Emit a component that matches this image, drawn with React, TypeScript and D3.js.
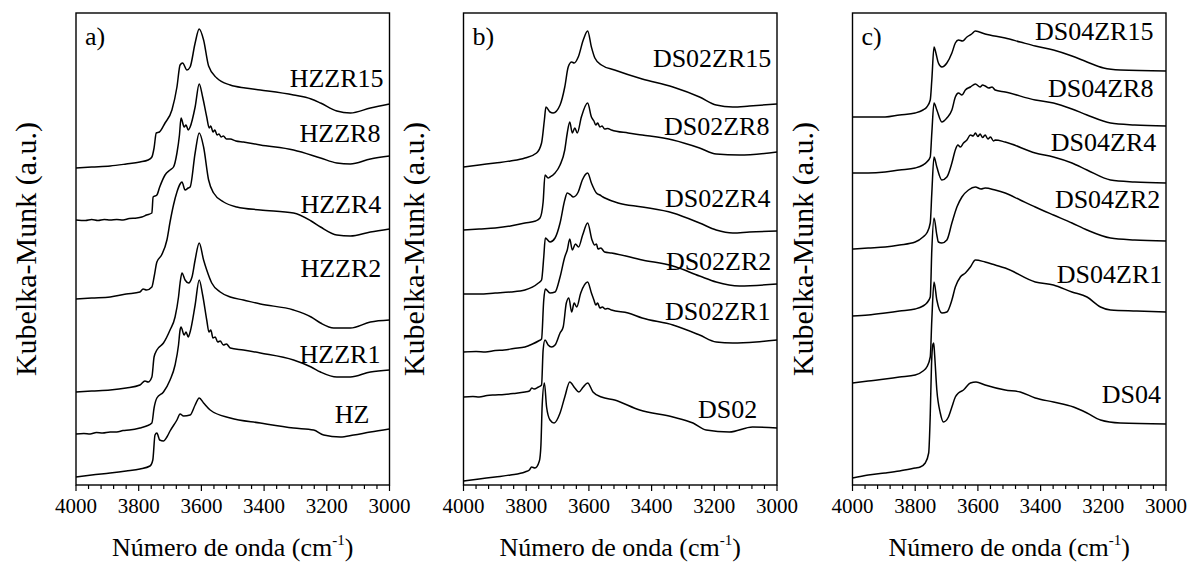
import React from 'react';
import * as d3 from 'd3';

type Pt = [number, number];

// ---------- axis ----------
const X_DOMAIN: [number, number] = [4000, 3000];
const X_MAJOR_TICKS = [4000, 3800, 3600, 3400, 3200, 3000];
const X_MINOR_STEP = 40;
const Y_DOMAIN: [number, number] = [0, 4.72];
const X_TITLE = 'Número de onda (cm';
const X_TITLE_SUP = '-1';
const Y_TITLE = 'Kubelka-Munk (a.u.)';

// ---------- panel a ----------
const HZZR15: Pt[] = [[4000,3.17],[3950,3.18],[3891,3.19],[3840,3.21],[3796,3.23],[3770,3.25],[3758,3.28],[3751,3.37],[3744,3.52],[3734,3.53],[3716,3.62],[3694,3.75],[3678,3.98],[3668,4.20],[3660,4.22],[3646,4.15],[3636,4.18],[3620,4.42],[3607,4.56],[3593,4.45],[3577,4.19],[3551,4.07],[3508,4.00],[3460,3.97],[3412,3.95],[3306,3.90],[3250,3.86],[3220,3.82],[3168,3.74],[3125,3.72],[3061,3.77],[3000,3.81]];
const HZZR8: Pt[] = [[4000,2.65],[3970,2.645],[3950,2.655],[3930,2.645],[3910,2.655],[3891,2.65],[3870,2.655],[3850,2.65],[3830,2.665],[3806,2.67],[3790,2.68],[3775,2.70],[3758,2.72],[3754,2.88],[3742,2.90],[3733,2.98],[3716,3.10],[3700,3.15],[3689,3.18],[3678,3.32],[3670,3.50],[3665,3.67],[3655,3.58],[3649,3.60],[3642,3.55],[3636,3.58],[3620,3.78],[3607,4.01],[3596,3.88],[3583,3.68],[3575,3.57],[3570,3.59],[3563,3.53],[3557,3.55],[3550,3.50],[3544,3.51],[3537,3.48],[3530,3.49],[3520,3.46],[3508,3.46],[3490,3.44],[3466,3.43],[3412,3.40],[3306,3.35],[3220,3.27],[3168,3.22],[3125,3.21],[3061,3.26],[3000,3.29]];
const HZZR4: Pt[] = [[4000,1.86],[3950,1.87],[3891,1.88],[3840,1.91],[3796,1.93],[3786,1.96],[3775,1.95],[3758,1.98],[3751,2.08],[3742,2.23],[3727,2.30],[3710,2.45],[3700,2.63],[3689,2.80],[3678,2.93],[3668,3.01],[3662,3.03],[3652,2.95],[3642,2.97],[3636,2.98],[3620,3.32],[3607,3.52],[3593,3.38],[3577,3.05],[3561,2.92],[3529,2.83],[3487,2.78],[3412,2.75],[3306,2.72],[3250,2.64],[3220,2.58],[3168,2.50],[3125,2.49],[3061,2.53],[3000,2.56]];
const HZZR2: Pt[] = [[4000,0.93],[3950,0.94],[3891,0.95],[3840,0.97],[3796,1.00],[3780,1.04],[3770,1.03],[3758,1.08],[3751,1.28],[3742,1.35],[3721,1.42],[3700,1.55],[3684,1.68],[3673,1.88],[3668,2.02],[3662,2.12],[3652,2.05],[3641,2.02],[3630,2.08],[3620,2.25],[3607,2.42],[3593,2.25],[3583,2.15],[3567,2.02],[3540,1.93],[3508,1.88],[3466,1.85],[3412,1.81],[3306,1.75],[3250,1.68],[3220,1.62],[3178,1.57],[3125,1.57],[3061,1.63],[3000,1.65]];
const HZZR1: Pt[] = [[4000,0.51],[3975,0.515],[3955,0.51],[3935,0.525],[3915,0.52],[3891,0.53],[3870,0.53],[3850,0.545],[3830,0.55],[3796,0.57],[3775,0.59],[3758,0.62],[3751,0.77],[3742,0.87],[3721,0.93],[3700,1.05],[3684,1.20],[3673,1.40],[3668,1.55],[3665,1.58],[3655,1.50],[3649,1.53],[3642,1.48],[3636,1.53],[3620,1.80],[3607,2.05],[3596,1.90],[3583,1.65],[3576,1.53],[3570,1.55],[3563,1.47],[3556,1.48],[3548,1.43],[3540,1.44],[3530,1.40],[3520,1.41],[3508,1.37],[3466,1.35],[3412,1.32],[3306,1.25],[3250,1.18],[3220,1.13],[3168,1.08],[3125,1.08],[3061,1.13],[3000,1.15]];
const HZ: Pt[] = [[4000,0.08],[3950,0.10],[3891,0.12],[3840,0.14],[3796,0.16],[3764,0.19],[3755,0.25],[3748,0.50],[3742,0.52],[3733,0.45],[3721,0.44],[3710,0.48],[3700,0.54],[3678,0.65],[3668,0.71],[3657,0.69],[3636,0.70],[3620,0.80],[3607,0.87],[3593,0.82],[3572,0.75],[3508,0.67],[3412,0.62],[3306,0.57],[3242,0.55],[3210,0.50],[3157,0.48],[3114,0.50],[3061,0.53],[3000,0.56]];
const A_NAMES = ['HZZR15', 'HZZR8', 'HZZR4', 'HZZR2', 'HZZR1', 'HZ'];
const A_LABEL_AT: Pt[] = [[3019,3.98],[3029,3.43],[3026,2.72],[3026,2.08],[3029,1.22],[3064,0.62]];

// ---------- panel b ----------
const DS02ZR15: Pt[] = [[4000,3.18],[3950,3.20],[3899,3.22],[3850,3.24],[3804,3.27],[3767,3.32],[3751,3.42],[3742,3.65],[3737,3.78],[3724,3.73],[3714,3.72],[3692,3.80],[3677,3.98],[3666,4.18],[3655,4.23],[3647,4.22],[3634,4.28],[3618,4.45],[3604,4.54],[3592,4.38],[3581,4.27],[3560,4.20],[3518,4.15],[3430,4.06],[3332,3.98],[3247,3.88],[3194,3.80],[3141,3.78],[3088,3.79],[3000,3.81]];
const DS02ZR8: Pt[] = [[4000,2.55],[3950,2.56],[3899,2.57],[3850,2.59],[3804,2.62],[3770,2.64],[3756,2.67],[3746,2.83],[3740,3.10],[3730,3.07],[3724,3.08],[3708,3.12],[3692,3.20],[3677,3.35],[3669,3.52],[3661,3.63],[3653,3.52],[3645,3.57],[3637,3.52],[3624,3.68],[3604,3.82],[3592,3.68],[3584,3.64],[3578,3.60],[3572,3.62],[3565,3.58],[3558,3.59],[3550,3.56],[3540,3.565],[3528,3.55],[3475,3.52],[3430,3.50],[3332,3.45],[3247,3.37],[3194,3.31],[3120,3.30],[3000,3.33]];
const DS02ZR4: Pt[] = [[4000,1.91],[3950,1.91],[3899,1.92],[3850,1.93],[3804,1.95],[3761,2.02],[3751,2.05],[3744,2.28],[3739,2.47],[3724,2.43],[3708,2.47],[3692,2.62],[3677,2.85],[3669,2.92],[3658,2.90],[3650,2.88],[3634,2.93],[3621,3.05],[3604,3.12],[3592,3.02],[3576,2.92],[3565,2.90],[3555,2.88],[3549,2.87],[3507,2.82],[3430,2.78],[3332,2.72],[3247,2.62],[3194,2.55],[3141,2.52],[3088,2.53],[3000,2.54]];
const DS02ZR2: Pt[] = [[4000,1.33],[3960,1.335],[3930,1.33],[3899,1.345],[3870,1.35],[3840,1.365],[3804,1.38],[3780,1.41],[3761,1.44],[3751,1.46],[3744,1.85],[3739,1.96],[3724,1.92],[3708,1.93],[3692,2.08],[3677,2.28],[3669,2.35],[3661,2.46],[3653,2.35],[3643,2.41],[3633,2.38],[3620,2.50],[3604,2.62],[3590,2.45],[3582,2.40],[3576,2.41],[3571,2.36],[3562,2.37],[3550,2.33],[3528,2.32],[3430,2.25],[3332,2.19],[3247,2.09],[3194,2.03],[3120,1.99],[3000,2.01]];
const DS02ZR1: Pt[] = [[4000,0.88],[3970,0.885],[3950,0.88],[3925,0.895],[3899,0.90],[3870,0.905],[3840,0.915],[3804,0.93],[3790,0.94],[3782,0.97],[3775,0.96],[3761,0.98],[3751,1.00],[3746,1.35],[3740,1.45],[3730,1.40],[3719,1.38],[3708,1.40],[3692,1.52],[3682,1.58],[3672,1.82],[3664,1.87],[3655,1.73],[3647,1.82],[3639,1.78],[3626,1.92],[3604,2.03],[3592,1.92],[3584,1.85],[3578,1.80],[3572,1.82],[3565,1.77],[3557,1.78],[3548,1.76],[3540,1.765],[3528,1.75],[3475,1.72],[3430,1.67],[3332,1.60],[3247,1.50],[3194,1.43],[3141,1.42],[3067,1.43],[3000,1.45]];
const DS02: Pt[] = [[4000,0.04],[3950,0.06],[3899,0.08],[3850,0.10],[3804,0.13],[3790,0.15],[3783,0.18],[3772,0.17],[3758,0.24],[3753,0.40],[3749,0.80],[3742,1.02],[3735,0.78],[3724,0.65],[3711,0.62],[3692,0.72],[3677,0.88],[3661,1.03],[3645,0.97],[3632,0.93],[3618,0.98],[3604,1.02],[3587,0.93],[3560,0.88],[3518,0.85],[3438,0.75],[3332,0.68],[3268,0.62],[3226,0.55],[3152,0.53],[3078,0.58],[3000,0.57]];
const B_NAMES = ['DS02ZR15', 'DS02ZR8', 'DS02ZR4', 'DS02ZR2', 'DS02ZR1', 'DS02'];
const B_LABEL_AT: Pt[] = [[3018,4.18],[3024,3.50],[3021,2.78],[3018,2.15],[3021,1.65],[3063,0.67]];

// ---------- panel c ----------
const DS04ZR15: Pt[] = [[4000,3.68],[3950,3.68],[3896,3.68],[3850,3.70],[3800,3.72],[3775,3.75],[3763,3.78],[3752,3.85],[3747,4.05],[3740,4.38],[3734,4.32],[3726,4.22],[3715,4.18],[3699,4.22],[3683,4.32],[3672,4.42],[3662,4.45],[3649,4.44],[3635,4.48],[3620,4.51],[3608,4.54],[3577,4.51],[3513,4.47],[3465,4.43],[3417,4.39],[3359,4.35],[3300,4.29],[3252,4.23],[3199,4.17],[3146,4.15],[3000,4.14]];
const DS04ZR8: Pt[] = [[4000,3.12],[3950,3.12],[3896,3.13],[3850,3.15],[3800,3.17],[3775,3.20],[3763,3.23],[3752,3.28],[3747,3.52],[3740,3.82],[3731,3.75],[3715,3.63],[3699,3.67],[3683,3.75],[3672,3.88],[3662,3.92],[3651,3.90],[3640,3.95],[3624,3.98],[3608,4.01],[3593,3.98],[3585,4.00],[3577,3.99],[3565,3.97],[3555,3.98],[3545,3.95],[3513,3.93],[3417,3.85],[3359,3.82],[3300,3.76],[3252,3.70],[3177,3.62],[3100,3.60],[3000,3.59]];
const DS04ZR4: Pt[] = [[4000,2.36],[3950,2.37],[3896,2.38],[3850,2.40],[3800,2.43],[3775,2.48],[3763,2.52],[3752,2.62],[3747,2.92],[3740,3.28],[3731,3.18],[3715,3.05],[3699,3.08],[3683,3.22],[3672,3.35],[3664,3.40],[3656,3.38],[3646,3.42],[3635,3.45],[3624,3.50],[3615,3.49],[3608,3.52],[3600,3.485],[3593,3.51],[3585,3.475],[3577,3.50],[3568,3.46],[3560,3.48],[3550,3.44],[3545,3.45],[3513,3.43],[3417,3.32],[3359,3.28],[3300,3.22],[3252,3.15],[3177,3.05],[3100,3.03],[3000,3.02]];
const DS04ZR2: Pt[] = [[4000,1.69],[3950,1.70],[3896,1.72],[3850,1.74],[3800,1.76],[3775,1.79],[3763,1.82],[3752,1.88],[3747,2.35],[3740,2.67],[3731,2.50],[3726,2.43],[3715,2.42],[3699,2.45],[3683,2.62],[3667,2.78],[3651,2.88],[3630,2.95],[3608,2.98],[3590,2.96],[3577,2.97],[3545,2.95],[3513,2.92],[3465,2.85],[3417,2.78],[3359,2.70],[3300,2.62],[3252,2.55],[3177,2.47],[3100,2.45],[3000,2.44]];
const DS04ZR1: Pt[] = [[4000,1.02],[3950,1.04],[3896,1.06],[3850,1.08],[3800,1.10],[3775,1.14],[3763,1.18],[3752,1.28],[3747,1.65],[3740,2.03],[3731,1.85],[3715,1.72],[3699,1.73],[3683,1.85],[3672,1.98],[3656,2.08],[3640,2.12],[3624,2.18],[3608,2.25],[3577,2.23],[3545,2.20],[3513,2.17],[3417,2.03],[3359,2.00],[3300,1.93],[3252,1.88],[3209,1.78],[3177,1.75],[3093,1.74],[3000,1.73]];
const DS04: Pt[] = [[4000,0.07],[3950,0.10],[3896,0.12],[3850,0.14],[3800,0.17],[3784,0.18],[3768,0.22],[3757,0.32],[3752,0.70],[3748,1.20],[3744,1.40],[3741,1.42],[3738,1.30],[3731,0.95],[3720,0.72],[3710,0.63],[3694,0.68],[3683,0.78],[3672,0.88],[3662,0.92],[3646,0.95],[3624,1.02],[3606,1.03],[3577,1.00],[3513,0.95],[3465,0.93],[3417,0.87],[3359,0.83],[3295,0.78],[3252,0.72],[3209,0.65],[3146,0.62],[3000,0.61]];
const C_NAMES = ['DS04ZR15', 'DS04ZR8', 'DS04ZR4', 'DS04ZR2', 'DS04ZR1', 'DS04'];
const C_LABEL_AT: Pt[] = [[3040,4.45],[3040,3.88],[3031,3.34],[3018,2.77],[3012,2.02],[3016,0.82]];

const PANEL_LETTERS = ['a)', 'b)', 'c)'];

// ---------- layout ----------
const W = 1191;
const H = 564;
const PANEL_LEFT = [76, 463.5, 852.5];
const PANEL_W = 313.5;
const TOP = 13;
const BOTTOM = 485;
const FONT = "'Liberation Serif', 'Times New Roman', Times, 'DejaVu Serif', serif";

type PanelDef = { series: Pt[][]; names: string[]; labelAt: Pt[] };
const PANELS: PanelDef[] = [
  { series: [HZZR15, HZZR8, HZZR4, HZZR2, HZZR1, HZ], names: A_NAMES, labelAt: A_LABEL_AT },
  { series: [DS02ZR15, DS02ZR8, DS02ZR4, DS02ZR2, DS02ZR1, DS02], names: B_NAMES, labelAt: B_LABEL_AT },
  { series: [DS04ZR15, DS04ZR8, DS04ZR4, DS04ZR2, DS04ZR1, DS04], names: C_NAMES, labelAt: C_LABEL_AT },
];

const txt = (size: number): React.CSSProperties => ({ fontFamily: FONT, fontSize: size });

function Panel({ def, idx }: { def: PanelDef; idx: number }) {
  const left = PANEL_LEFT[idx];
  const x = d3.scaleLinear().domain(X_DOMAIN).range([left, left + PANEL_W]);
  const y = d3.scaleLinear().domain(Y_DOMAIN).range([BOTTOM, TOP]);
  const line = d3
    .line<Pt>()
    .x((d) => x(d[0]))
    .y((d) => y(d[1]))
    .curve(d3.curveMonotoneX);
  const ticks = d3.range(X_DOMAIN[1], X_DOMAIN[0] + 1, X_MINOR_STEP);
  const cx = left + PANEL_W / 2;
  const cy = (TOP + BOTTOM) / 2;
  return (
    <g>
      {def.series.map((s, i) => (
        <path key={i} d={line(s) || ''} fill="none" stroke="#000" strokeWidth={1.5} strokeLinejoin="round" />
      ))}
      <rect x={left} y={TOP} width={PANEL_W} height={BOTTOM - TOP} fill="none" stroke="#000" strokeWidth={1.4} />
      {ticks.map((t) => {
        const major = X_MAJOR_TICKS.includes(t);
        return (
          <line key={t} x1={x(t)} x2={x(t)} y1={BOTTOM} y2={BOTTOM + (major ? 6 : 4)} stroke="#000" strokeWidth={1.2} />
        );
      })}
      {X_MAJOR_TICKS.map((t) => (
        <text key={t} x={x(t)} y={513} textAnchor="middle" style={txt(21)} fill="#000">
          {t}
        </text>
      ))}
      <text x={cx} y={556} textAnchor="middle" style={txt(26)} fill="#000">
        {X_TITLE}
        <tspan style={txt(15)} dy={-11}>{X_TITLE_SUP}</tspan>
        <tspan dy={11}>)</tspan>
      </text>
      <text
        transform={`translate(${left - 40},${cy}) rotate(-90)`}
        textAnchor="middle"
        style={txt(30)}
        fill="#000"
      >
        {Y_TITLE}
      </text>
      <text x={left + 9} y={45} style={txt(26)} fill="#000">
        {PANEL_LETTERS[idx]}
      </text>
      {def.names.map((n, i) => (
        <text
          key={n}
          x={x(def.labelAt[i][0])}
          y={y(def.labelAt[i][1])}
          textAnchor="end"
          style={txt(26)}
          fill="#000"
        >
          {n}
        </text>
      ))}
    </g>
  );
}

export default function App() {
  return (
    <div style={{ position: 'absolute', left: 0, top: 0, width: W, height: H, background: '#fff' }}>
      <svg width={W} height={H} viewBox={`0 0 ${W} ${H}`} style={{ display: 'block', fontFamily: FONT }}>
        <rect x={0} y={0} width={W} height={H} fill="#fff" />
        {PANELS.map((p, i) => (
          <Panel key={i} def={p} idx={i} />
        ))}
      </svg>
    </div>
  );
}
